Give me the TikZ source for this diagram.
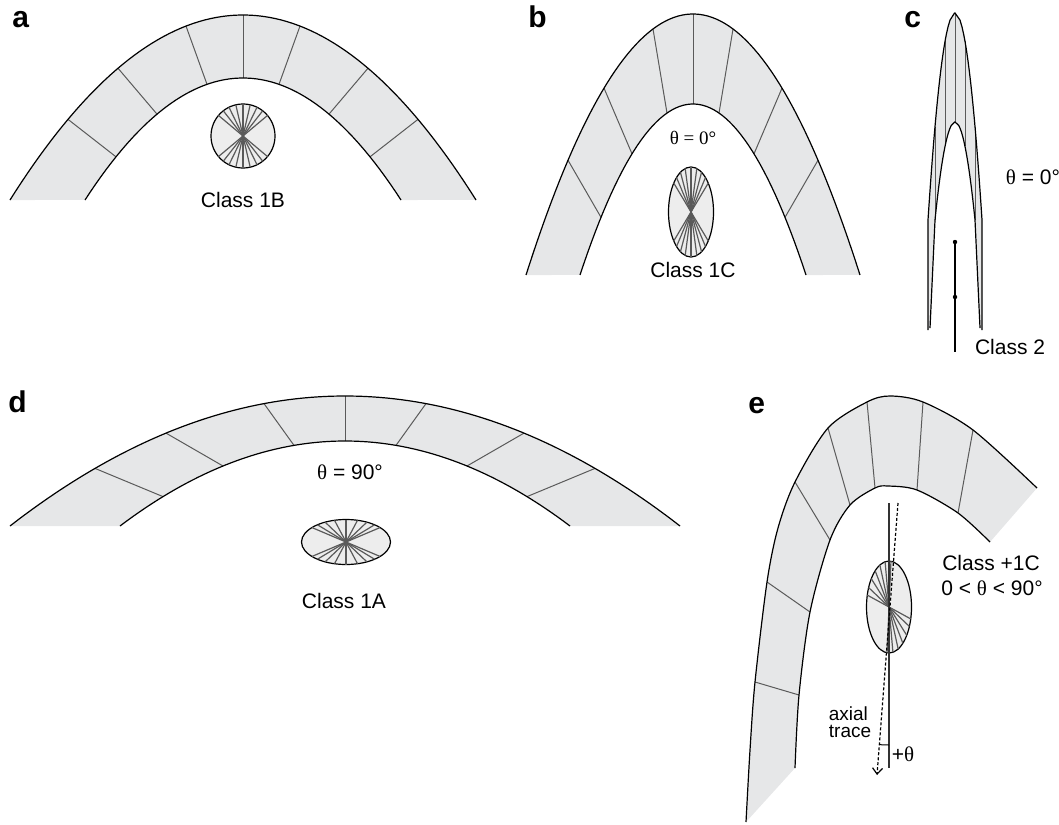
\documentclass[tikz,border=0pt]{standalone}
\usepackage{fontspec}
\setmainfont{Liberation Sans}
\newfontfamily\grkfont{Liberation Serif}
\usetikzlibrary{arrows.meta}
\definecolor{archfill}{HTML}{E6E7E8}
\definecolor{discfill}{HTML}{EDEDED}
\definecolor{seamgray}{HTML}{5A5A5A}
\newcommand\thsym{{\grkfont θ}}

\begin{document}
\begin{tikzpicture}[x=0.5pt, y=-0.5pt,
  rim/.style={line width=0.6pt, black},
  seam/.style={line width=0.5pt, seamgray},
  disc/.style={line width=0.6pt, fill=discfill},
  fan/.style={line width=0.6pt, seamgray},
  lbl/.style={font=\fontsize{10.5}{12}\selectfont, inner sep=0pt},
  panel/.style={font=\fontsize{15}{18}\selectfont\bfseries, anchor=base west, inner sep=0pt}]
 \useasboundingbox (0,0) rectangle (1059,824);

 % a
 \node[panel] (pa) at (12,28) {a};
 \fill[archfill] plot[domain=-233:233, samples=80] ({243+\x},{15+185*(\x/233)^2})
   -- plot[domain=158:-158, samples=60] ({243+\x},{78+122*(\x/158)^2}) -- cycle;
 \foreach \o/\i in {-175/-127,-125/-86,-57/-36,0/0,57/36,125/86,175/127}
   \draw[seam] ({243+\o},{15+185*(\o/233)^2}) -- ({243+\i},{78+122*(\i/158)^2});
 \draw[rim] plot[domain=-233:233, samples=80] ({243+\x},{15+185*(\x/233)^2});
 \draw[rim] plot[domain=-158:158, samples=60] ({243+\x},{78+122*(\x/158)^2});
 \draw[disc] (243,136) circle[radius=32];
 \foreach \t in {40,52,64,77,90,103,116,128,140}
   \draw[fan] ({243+32*cos(\t)},{136-32*sin(\t)}) -- ({243-32*cos(\t)},{136+32*sin(\t)});
 \node[lbl] (ca) at (243,200) {Class 1B};

 % b
 \node[panel] (pb) at (528,28) {b};
 \fill[archfill] plot[domain=-167:167, samples=80] ({693+\x},{14+261*(\x/167)^2})
   -- plot[domain=113:-113, samples=60] ({693+\x},{104+171*(\x/113)^2}) -- cycle;
 \foreach \o/\i in {-125/-92,-89/-61,-40/-26,0/0,40/26,89/61,125/92}
   \draw[seam] ({693+\o},{14+261*(\o/167)^2}) -- ({693+\i},{104+171*(\i/113)^2});
 \draw[rim] plot[domain=-167:167, samples=80] ({693+\x},{14+261*(\x/167)^2});
 \draw[rim] plot[domain=-113:113, samples=60] ({693+\x},{104+171*(\x/113)^2});
 \node[lbl, font=\grkfont\fontsize{9.5}{11}\selectfont] (tb) at (693,138) {θ = 0°};
 \draw[disc] (691,212) ellipse[x radius=22.5, y radius=45];
 \foreach \t in {40,50,62,75,90,105,118,130,140}
   \draw[fan] ({691+22.5*cos(\t)},{212-45*sin(\t)}) -- ({691-22.5*cos(\t)},{212+45*sin(\t)});
 \node[lbl] (cb) at (693,270) {Class 1C};

 % c
 \node[panel] (pc) at (904,28) {c};
 \fill[archfill] (928,330) -- (928,220)
   -- plot[domain=1:0, samples=30] ({955-27*sqrt(\x)},{13+207*\x})
   -- plot[domain=0:1, samples=30] ({955+27*sqrt(\x)},{13+207*\x})
   -- (982,330) -- (980,328) -- (975,220)
   -- plot[domain=1:0, samples=30] ({955+20*sqrt(\x)},{122+98*\x})
   -- plot[domain=0:1, samples=30] ({955-20*sqrt(\x)},{122+98*\x})
   -- (930,328) -- cycle;
 \draw[seam] (955,13) -- (955,122);
 \draw[seam] (945,41) -- (945,146);
 \draw[seam] (965,41) -- (965,146);
 \draw[seam] (935,127) -- (935,220);
 \draw[seam] (975,127) -- (975,220);
 \draw[rim] (928,330) -- (928,220) -- plot[domain=1:0, samples=30] ({955-27*sqrt(\x)},{13+207*\x})
   -- plot[domain=0:1, samples=30] ({955+27*sqrt(\x)},{13+207*\x}) -- (982,330);
 \draw[rim] (930,328) -- (935,220) -- plot[domain=1:0, samples=30] ({955-20*sqrt(\x)},{122+98*\x})
   -- plot[domain=0:1, samples=30] ({955+20*sqrt(\x)},{122+98*\x}) -- (980,328);
 \node[lbl] (tc) at (1033,177) {\thsym{} = 0°};
 \draw[line width=1pt] (955,242) -- (955,352);
 \fill (955,242) circle[radius=2.2];
 \fill (955,297) circle[radius=2.2];
 \node[lbl] (cc) at (1010,347) {Class 2};

 % d
 \node[panel] (pd) at (8,412) {d};
 \fill[archfill] plot[domain=-335:335, samples=90] ({345+\x},{396+130*(\x/335)^2})
   -- plot[domain=225:-225, samples=70] ({345+\x},{441+85*(\x/225)^2}) -- cycle;
 \foreach \o/\i in {-250/-182,-179/-122,-81/-51,0/0,81/51,179/122,250/182}
   \draw[seam] ({345+\o},{396+130*(\o/335)^2}) -- ({345+\i},{441+85*(\i/225)^2});
 \draw[rim] plot[domain=-335:335, samples=90] ({345+\x},{396+130*(\x/335)^2});
 \draw[rim] plot[domain=-225:225, samples=70] ({345+\x},{441+85*(\x/225)^2});
 \node[lbl] (td) at (350,472) {\thsym{} = 90°};
 \draw[disc] (346,542) ellipse[x radius=44.5, y radius=22.5];
 \foreach \t in {40,50,62,75,90,105,118,130,140}
   \draw[fan] ({346+44.5*cos(\t)},{542-22.5*sin(\t)}) -- ({346-44.5*cos(\t)},{542+22.5*sin(\t)});
 \node[lbl] (cd) at (344,601) {Class 1A};

 % e
 \node[panel] (pe) at (748,413) {e};
 \fill[archfill] plot[smooth] coordinates {(746,822) (750,750) (755,682) (767,582) (778,528)
   (795,482) (828,428) (867,402) (890,396) (923,402) (973,430) (1037,488)}
   -- plot[smooth] coordinates {(990,542) (958,513) (917,490) (888,486) (875,488) (850,505)
   (830,540) (810,612) (799,695) (795,768)} -- cycle;
 \foreach \ox/\oy/\ix/\iy in {755/682/799/695, 767/582/810/612, 795/482/830/540, 828/428/850/505,
   867/402/875/488, 923/402/917/490, 973/430/958/513}
   \draw[seam] (\ox,\oy) -- (\ix,\iy);
 \draw[rim] plot[smooth] coordinates {(746,822) (750,750) (755,682) (767,582) (778,528)
   (795,482) (828,428) (867,402) (890,396) (923,402) (973,430) (1037,488)};
 \draw[rim] plot[smooth] coordinates {(990,542) (958,513) (917,490) (888,486) (875,488) (850,505)
   (830,540) (810,612) (799,695) (795,768)};
 \draw[disc] (889,607) ellipse[x radius=22.5, y radius=46];
 \foreach \t in {15,25,38,52,66,80,95}
   \draw[fan] ({889+22.5*cos(\t)},{607+46*sin(\t)}) -- ({889-22.5*cos(\t)},{607-46*sin(\t)});
 \draw[line width=0.6pt, black!80] (889,503) -- (889,768);
 \draw[line width=0.6pt, dash pattern=on 1.5pt off 1pt, -{Straight Barb[length=3pt, width=5pt]}]
   (898,503) -- (877,775);
 \draw[line width=0.5pt] (889,745) arc[start angle=90, end angle=94.4, radius=125];
 \node[lbl] (ce) at (991,563) {Class +1C};
 \node[lbl] (te) at (992,588) {0 < \thsym{} < 90°};
 \node[lbl, align=left, font=\fontsize{9.5}{8.5}\selectfont] (ax) at (850,722) {axial\\trace};
 \node[lbl] (pt) at (903,754) {+\thsym};
\end{tikzpicture}
\end{document}
